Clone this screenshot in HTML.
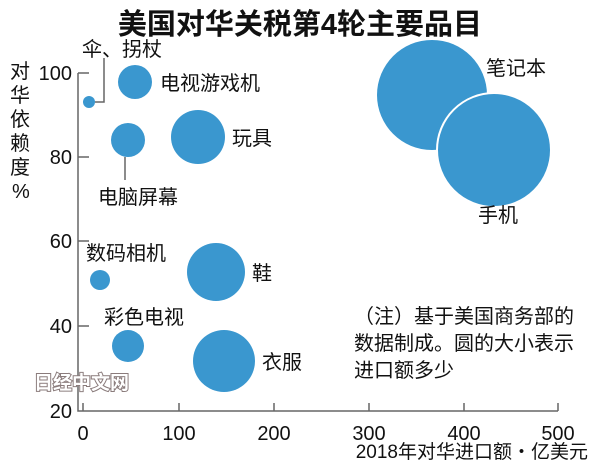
<!DOCTYPE html>
<html><head><meta charset="utf-8"><style>
body{margin:0;background:#fff}
svg text{font-family:"Liberation Sans","Noto Sans CJK SC",sans-serif;fill:#111}
</style></head><body>
<svg width="600" height="464" xmlns="http://www.w3.org/2000/svg">
<rect width="600" height="464" fill="#fff"/>
<text x="300" y="34" font-size="29" font-weight="bold" text-anchor="middle">美国对华关税第4轮主要品目</text>
<g stroke="#666" stroke-width="1.5" fill="none">
<path d="M78 73 V411 H558"/>
<path d="M78 73 H89 M78 157 H89 M78 241 H89 M78 326 H89"/>
<path d="M83 411 V403 M179 411 V403 M274 411 V403 M369 411 V403 M464 411 V403 M558 411 V403"/>
<path d="M95 102 H104 V58"/>
<path d="M125 157 V180"/>
</g>
<g font-size="20" text-anchor="end">
<text x="72" y="80">100</text><text x="72" y="164">80</text><text x="72" y="248">60</text><text x="72" y="333">40</text><text x="72" y="418">20</text>
</g>
<g font-size="20" text-anchor="middle">
<text x="83" y="440">0</text><text x="179" y="440">100</text><text x="274" y="440">200</text><text x="369" y="440">300</text><text x="464" y="440">400</text><text x="558" y="440">500</text>
</g>
<text x="588" y="458" font-size="19" text-anchor="end">2018年对华进口额・亿美元</text>
<g font-size="20">
<text x="10" y="78">对</text><text x="10" y="102">华</text><text x="10" y="126">依</text><text x="10" y="150">赖</text><text x="10" y="174">度</text><text x="12" y="198">%</text>
</g>
<g fill="#3a97cf">
<circle cx="89" cy="102" r="6"/>
<circle cx="135" cy="82" r="17"/>
<circle cx="128" cy="140" r="17"/>
<circle cx="198" cy="137" r="27"/>
<circle cx="432" cy="95" r="55"/>
<circle cx="494" cy="150" r="57" stroke="#fff" stroke-width="2"/>
<circle cx="100" cy="280" r="10"/>
<circle cx="216" cy="272" r="29"/>
<circle cx="128" cy="346" r="16"/>
<circle cx="224" cy="361" r="31"/>
</g>
<g font-size="20">
<text x="82" y="56">伞、拐杖</text>
<text x="160" y="90">电视游戏机</text>
<text x="232" y="145">玩具</text>
<text x="98" y="204">电脑屏幕</text>
<text x="486" y="75">笔记本</text>
<text x="478" y="222">手机</text>
<text x="86" y="260">数码相机</text>
<text x="252" y="280">鞋</text>
<text x="104" y="324">彩色电视</text>
<text x="262" y="369">衣服</text>
<text x="354" y="323">（注）基于美国商务部的</text>
<text x="354" y="350">数据制成。圆的大小表示</text>
<text x="354" y="377">进口额多少</text>
</g>
<text x="34" y="389" font-size="19" font-weight="bold" style="fill:#fff;stroke:#8a7b7b;stroke-width:2;paint-order:stroke">日经中文网</text>
</svg>
</body></html>
